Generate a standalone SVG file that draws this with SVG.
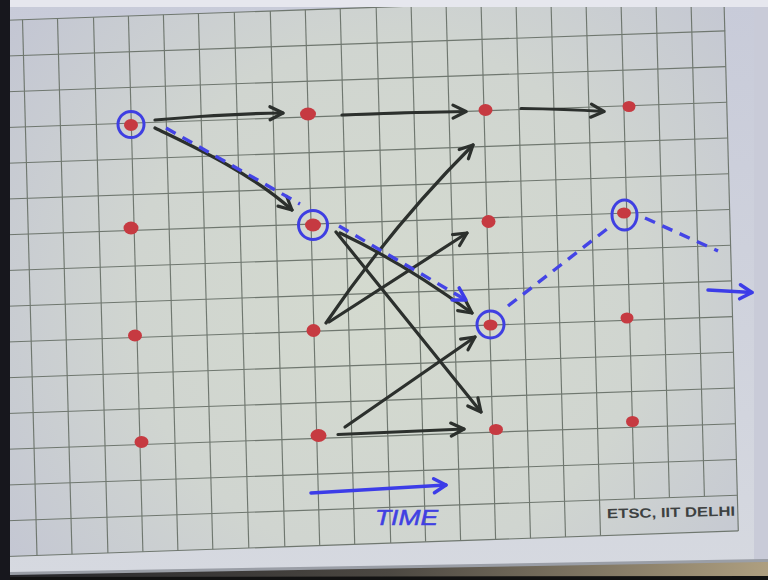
<svg xmlns="http://www.w3.org/2000/svg" width="768" height="580" viewBox="0 0 768 580">
  <defs>
    <radialGradient id="paper" cx="390" cy="300" r="470" gradientUnits="userSpaceOnUse">
      <stop offset="0" stop-color="#d4dacf"/>
      <stop offset="0.55" stop-color="#d0d5d0"/>
      <stop offset="1" stop-color="#c3c6d3"/>
    </radialGradient>
    <linearGradient id="margin" x1="0" y1="0" x2="0" y2="1">
      <stop offset="0" stop-color="#c8cbd9"/>
      <stop offset="1" stop-color="#d6d9e0"/>
    </linearGradient>
    <linearGradient id="edge" x1="0" y1="0" x2="1" y2="0">
      <stop offset="0" stop-color="#26262a"/>
      <stop offset="0.5" stop-color="#4c4842"/>
      <stop offset="1" stop-color="#ae9f80"/>
    </linearGradient>
    <marker id="ah" markerUnits="userSpaceOnUse" markerWidth="32" markerHeight="32" viewBox="-16 -16 32 32" refX="0" refY="0" orient="auto">
      <path d="M-13,-6.5 L0,0 L-13,6.5" fill="none" stroke="#2c302d" stroke-width="3.2" stroke-linecap="round" stroke-linejoin="round"/>
    </marker>
    <marker id="bh" markerUnits="userSpaceOnUse" markerWidth="32" markerHeight="32" viewBox="-16 -16 32 32" refX="0" refY="0" orient="auto">
      <path d="M-12,-7 L0,0 L-12,7" fill="none" stroke="#3c3ce8" stroke-width="3.5" stroke-linecap="round" stroke-linejoin="round"/>
    </marker>
  </defs>
  <style>
    .grid line { stroke: #6f776f; stroke-width: 1.15; }
    .dot { fill: #c63a41; }
    .ring { fill: none; stroke: #3f3fe2; stroke-width: 3; }
    .ink { fill: none; stroke: #2c302d; stroke-width: 3.2; stroke-linecap: round; marker-end: url(#ah); }
    .dash { fill: none; stroke: #4444e6; stroke-width: 3.4; stroke-dasharray: 11 8; }
    .pen { fill: none; stroke: #3c3ce8; stroke-width: 3.5; stroke-linecap: round; marker-end: url(#bh); }
  </style>

  <!-- sheet of graph paper -->
  <rect x="0" y="0" width="768" height="580" fill="url(#margin)"/>
  <polygon points="0,20.5 724.4,-4.9 738.3,530.9 0,556.75" fill="url(#paper)"/>
  <rect x="754" y="0" width="14" height="565" fill="#c9cbd8"/>

  <!-- grid -->
  <g class="grid">
    <line x1="0" y1="20.5" x2="724.4" y2="-4.9"/>
    <line x1="0" y1="56.25" x2="725.2" y2="30.9"/>
    <line x1="0" y1="92" x2="725.8" y2="66.6"/>
    <line x1="0" y1="127.75" x2="726.8" y2="102.3"/>
    <line x1="0" y1="163.5" x2="727.7" y2="138"/>
    <line x1="0" y1="199.25" x2="728.7" y2="173.8"/>
    <line x1="0" y1="235" x2="729.7" y2="209.5"/>
    <line x1="0" y1="270.75" x2="730.6" y2="245.2"/>
    <line x1="0" y1="306.5" x2="731.6" y2="280.9"/>
    <line x1="0" y1="342.25" x2="732.6" y2="316.6"/>
    <line x1="0" y1="378" x2="733.5" y2="352.3"/>
    <line x1="0" y1="413.75" x2="734.5" y2="388"/>
    <line x1="0" y1="449.5" x2="735.5" y2="423.7"/>
    <line x1="0" y1="485.25" x2="736.4" y2="459.5"/>
    <line x1="0" y1="521" x2="737.4" y2="495.2"/>
    <line x1="0" y1="556.75" x2="738.3" y2="530.9"/>

    <line x1="22.5" y1="19.7" x2="37" y2="555.5"/>
    <line x1="57.5" y1="18.5" x2="72" y2="554.2"/>
    <line x1="93.5" y1="17.2" x2="107.9" y2="553"/>
    <line x1="128.4" y1="16" x2="142.9" y2="551.7"/>
    <line x1="163.4" y1="14.8" x2="177.9" y2="550.5"/>
    <line x1="198.4" y1="13.6" x2="212.8" y2="549.3"/>
    <line x1="234.3" y1="12.3" x2="248.8" y2="548"/>
    <line x1="270.3" y1="11" x2="284.8" y2="546.8"/>
    <line x1="305.3" y1="9.8" x2="319.7" y2="545.5"/>
    <line x1="340.2" y1="8.6" x2="354.7" y2="544.3"/>
    <line x1="376.1" y1="5" x2="390.7" y2="543.1"/>
    <line x1="411.1" y1="5" x2="425.6" y2="541.8"/>
    <line x1="446.1" y1="5" x2="460.6" y2="540.6"/>
    <line x1="481.1" y1="5" x2="495.6" y2="539.4"/>
    <line x1="516.1" y1="5" x2="530.5" y2="538.2"/>
    <line x1="551.1" y1="5" x2="565.5" y2="537"/>
    <line x1="586.1" y1="5" x2="600.5" y2="535.7"/>
    <line x1="621.1" y1="5" x2="634.5" y2="498.7"/>
    <line x1="656.1" y1="5" x2="669.4" y2="497.5"/>
    <line x1="691.1" y1="5" x2="704.4" y2="496.3"/>
    <line x1="724.1" y1="5" x2="738.3" y2="530.9"/>
  </g>

  <!-- edges of the sheet -->
  <rect x="0" y="0" width="768" height="7" fill="#e6e7ee"/>
  <polygon points="10,574 768,561 768,580 10,580" fill="url(#edge)"/>
  <polygon points="10,572 768,559 768,562 10,575" fill="#9a9ea6"/>
  <polygon points="10,577 768,576 768,580 10,580" fill="#121212"/>
  <rect x="0" y="0" width="10" height="580" fill="#17171d"/>

  <!-- connectors -->
  <g id="connectors">
    <path class="ink" d="M155,120 Q220,114 283,113"/>
    <path class="ink" d="M342,115 Q405,112 466,111.5"/>
    <path class="ink" d="M521,108.5 Q565,109 604,111.5"/>
    <path class="ink" d="M155,128 C190,145 250,172 292,210"/>
    <path class="ink" d="M340,233 Q402,262 472,313"/>
    <path class="ink" d="M336,232 L481,412"/>
    <path class="ink" d="M326,323 Q392,226 473,145"/>
    <path class="ink" d="M329,322 L467,233"/>
    <path class="ink" d="M345,427 L475,337"/>
    <path class="ink" d="M338,434.5 L464,429"/>

    <path class="dash" d="M166,128 L300,204"/>
    <path class="dash" d="M339,226 L466,300" marker-end="url(#bh)"/>
    <path class="dash" d="M508,306 L607,229"/>
    <path class="dash" d="M645,218 L718,251" stroke-dasharray="9 10" stroke-width="2.6"/>

    <path class="pen" d="M311,493 Q380,489 446,485"/>
    <path class="pen" d="M708,290 L752,292.5"/>
  </g>

  <!-- events: rows top to bottom, columns left to right -->
  <g id="n1-1"><ellipse class="dot" cx="131" cy="125" rx="7" ry="6"/><circle class="ring" cx="131" cy="124.5" r="13"/></g>
  <g id="n1-2"><ellipse class="dot" cx="308" cy="114" rx="8" ry="6.5"/></g>
  <g id="n1-3"><ellipse class="dot" cx="485.5" cy="110" rx="7" ry="6"/></g>
  <g id="n1-4"><ellipse class="dot" cx="629" cy="106.5" rx="6.5" ry="5.5"/></g>

  <g id="n2-1"><ellipse class="dot" cx="131" cy="228" rx="7.5" ry="6.5"/></g>
  <g id="n2-2"><ellipse class="dot" cx="313" cy="225" rx="8" ry="6.5"/><circle class="ring" cx="313" cy="225" r="14.5"/></g>
  <g id="n2-3"><ellipse class="dot" cx="488.5" cy="221.5" rx="7" ry="6.5"/></g>
  <g id="n2-4"><ellipse class="dot" cx="624" cy="213" rx="7" ry="5.5"/><ellipse class="ring" cx="624.5" cy="215" rx="12.5" ry="15"/></g>

  <g id="n3-1"><ellipse class="dot" cx="135" cy="335.5" rx="7" ry="6"/></g>
  <g id="n3-2"><ellipse class="dot" cx="313.5" cy="330.5" rx="7" ry="6.5"/></g>
  <g id="n3-3"><ellipse class="dot" cx="490.5" cy="325" rx="7" ry="5.5"/><circle class="ring" cx="490.5" cy="324.5" r="13.5" stroke-width="5"/></g>
  <g id="n3-4"><ellipse class="dot" cx="627" cy="318" rx="6.5" ry="5.5"/></g>

  <g id="n4-1"><ellipse class="dot" cx="141.5" cy="442" rx="7" ry="6"/></g>
  <g id="n4-2"><ellipse class="dot" cx="318.5" cy="435.5" rx="8" ry="6.5"/></g>
  <g id="n4-3"><ellipse class="dot" cx="496" cy="429.5" rx="7" ry="5.5"/></g>
  <g id="n4-4"><ellipse class="dot" cx="632.5" cy="421.5" rx="6.5" ry="5.5"/></g>

  <!-- labels -->
  <text x="375" y="525" font-family="Liberation Sans, Arial, sans-serif" font-style="italic" font-size="22" fill="#4040e2" stroke="#4040e2" stroke-width="0.5" textLength="63" lengthAdjust="spacingAndGlyphs">TIME</text>
  <text x="607" y="517" font-family="Liberation Sans, Arial, sans-serif" font-weight="bold" font-size="13.5" fill="#3d4141" textLength="128" lengthAdjust="spacingAndGlyphs" transform="rotate(-1.2 671 512)">ETSC, IIT DELHI</text>
</svg>
